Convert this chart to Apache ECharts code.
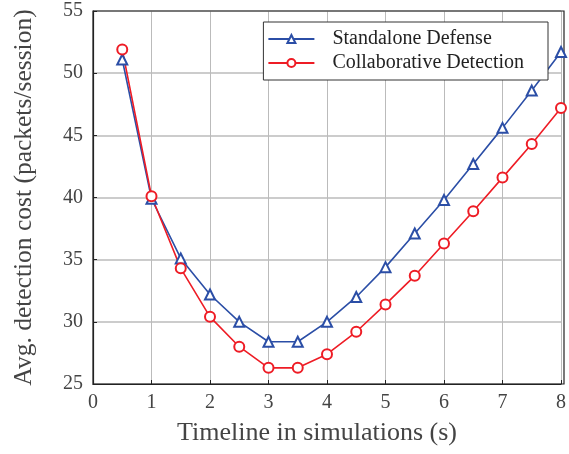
<!DOCTYPE html>
<html><head><meta charset="utf-8">
<script src="https://cdn.jsdelivr.net/npm/echarts@6/dist/echarts.min.js"></script>
<style>html,body{margin:0;padding:0;background:#fff}#c{width:569px;height:454px}</style>
</head><body><div id="c"></div>
<script>
const xValues = [0.5,1,1.5,2,2.5,3,3.5,4,4.5,5,5.5,6,6.5,7,7.5,8];
const standalone = [51.1,39.9,35.1,32.2,30.0,28.4,28.4,30.0,32.0,34.4,37.1,39.8,42.7,45.6,48.6,51.7];
const collaborative = [51.9,40.1,34.3,30.4,28.0,26.3,26.3,27.4,29.2,31.4,33.7,36.3,38.9,41.6,44.3,47.2];
const seriesNames = ['Standalone Defense','Collaborative Detection'];

const font = 'Liberation Serif, Times New Roman, serif';
const chart = echarts.init(document.getElementById('c'));
chart.setOption({
  animation:false,
  grid:{left:93,right:5,top:11,bottom:70},
  legend:{
    top:22,right:21,orient:'vertical',
    data:seriesNames,
    backgroundColor:'#fff',borderColor:'#333',borderWidth:1,
    padding:[7,24,7,4],itemGap:4,itemWidth:46,itemHeight:10,
    textStyle:{fontFamily:font,fontSize:20,color:'#222',padding:[0,0,0,13]}
  },
  xAxis:{
    type:'value',min:0,max:8,interval:1,
    name:'Timeline in simulations (s)',nameLocation:'middle',nameGap:36,
    nameTextStyle:{fontFamily:font,fontSize:26,color:'#444',padding:[0,20,0,0]},
    axisLine:{lineStyle:{color:'#222',width:1.2}},
    axisTick:{inside:true,length:4,lineStyle:{color:'#222'}},
    axisLabel:{fontFamily:font,fontSize:20,color:'#444',margin:9},
    splitLine:{show:true,lineStyle:{color:'#bbb',width:1}}
  },
  yAxis:{
    type:'value',min:25,max:55,interval:5,
    name:'Avg. detection cost (packets/session)',nameLocation:'middle',nameGap:56,
    nameTextStyle:{fontFamily:font,fontSize:25.5,color:'#444'},
    axisLine:{show:true,lineStyle:{color:'#222',width:1.2}},
    axisTick:{show:true,inside:true,length:4,lineStyle:{color:'#222'}},
    axisLabel:{fontFamily:font,fontSize:20,color:'#444',margin:10},
    splitLine:{show:true,lineStyle:{color:'#ccc',width:2}}
  },
  series:[
    {name:seriesNames[0],type:'line',data:xValues.map((x,i)=>[x,standalone[i]]),
     color:'#2b4ea6',symbol:'emptyTriangle',symbolSize:10,
     lineStyle:{width:1.6},itemStyle:{borderWidth:1.6}},
    {name:seriesNames[1],type:'line',data:xValues.map((x,i)=>[x,collaborative[i]]),
     color:'#ee1c25',symbol:'emptyCircle',symbolSize:10,
     lineStyle:{width:1.6},itemStyle:{borderWidth:1.6}}
  ]
});
chart.setOption({graphic:[{type:'rect',shape:{x:93,y:11,width:471,height:373},style:{fill:'none',stroke:'#222',lineWidth:1.2},z:0,silent:true}]});
</script></body></html>
